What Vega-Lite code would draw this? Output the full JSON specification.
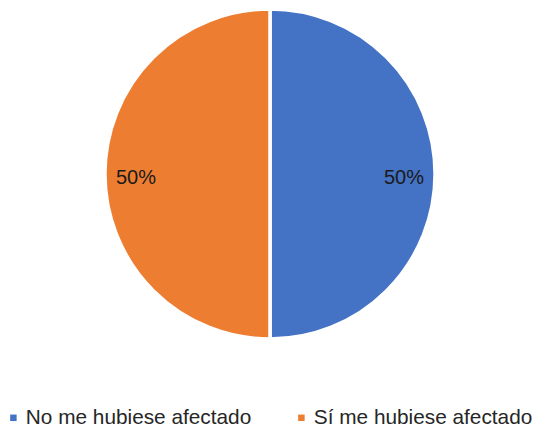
{
  "$schema": "https://vega.github.io/schema/vega-lite/v6.json",
  "width": 540,
  "height": 348,
  "autosize": "none",
  "padding": {"left": 0, "top": 0, "right": 0, "bottom": 79},
  "background": "white",
  "data": {"values": [
    {"category": "No me hubiese afectado", "value": 50, "label": "50%"},
    {"category": "Sí me hubiese afectado", "value": 50, "label": "50%"}
  ]},
  "encoding": {
    "theta": {"field": "value", "type": "quantitative", "stack": true},
    "order": {"field": "category", "type": "nominal"}
  },
  "layer": [
    {
      "mark": {"type": "arc", "outerRadius": 165, "stroke": "white", "strokeWidth": 3.5},
      "encoding": {
        "color": {
          "field": "category", "type": "nominal",
          "scale": {"domain": ["No me hubiese afectado", "Sí me hubiese afectado"], "range": ["#4472C4", "#ED7D31"]},
          "legend": {
            "title": null, "orient": "none", "direction": "horizontal", "columns": 2,
            "legendX": 3, "legendY": 407,
            "symbolType": "square", "symbolSize": 42, "symbolStrokeWidth": 0,
            "labelFont": "Liberation Sans", "labelFontSize": 20.8, "labelColor": "#262626",
            "labelLimit": 400, "columnPadding": 39, "labelOffset": 2
          }
        }
      }
    },
    {
      "mark": {"type": "text", "radius": 134, "font": "Liberation Sans", "fontSize": 20, "color": "#1a1a1a", "dy": 4},
      "encoding": {"text": {"field": "label"}}
    }
  ]
}
